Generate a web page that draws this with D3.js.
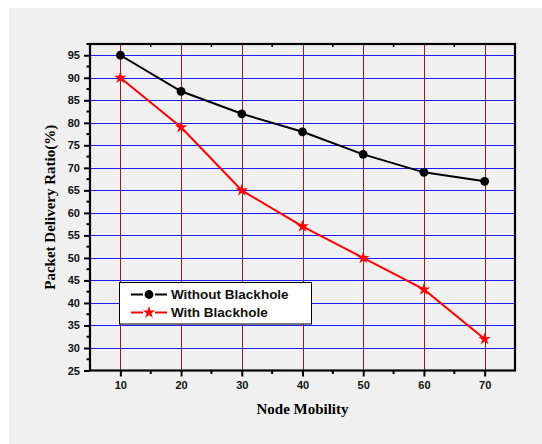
<!DOCTYPE html>
<html>
<head>
<meta charset="utf-8">
<script src="https://cdn.jsdelivr.net/npm/d3@7"></script>
<style>
  body { margin: 0; background: #fff; }
  svg { display: block; }
</style>
</head>
<body>
<svg id="chart" width="542" height="444"></svg>
<script>
'use strict'

const mobility = [10, 20, 30, 40, 50, 60, 70]
const withoutBlackhole = [95, 87, 82, 78, 73, 69, 67]
const withBlackhole = [90, 79, 65, 57, 50, 43, 32]
const yTicks = [25, 30, 35, 40, 45, 50, 55, 60, 65, 70, 75, 80, 85, 90, 95]
const xTicks = [10, 20, 30, 40, 50, 60, 70]
const seriesNames = ['Without Blackhole', 'With Blackhole']

const svg = d3.select('#chart')

// grey panel behind everything
svg.append('rect')
  .attr('x', 9).attr('y', 8)
  .attr('width', 542).attr('height', 444)
  .attr('fill', '#f0f0f0')

const plotL = 90
const plotR = 515
const plotT = 44
const plotB = 370.5

const x = d3.scaleLinear().domain([5, 75]).range([plotL, plotR])
const y = d3.scaleLinear().domain([25, 97.5]).range([plotB, plotT])

const sans = 'Arial, "Liberation Sans", sans-serif'
const serif = '"Times New Roman", "Liberation Serif", serif'

// grid
svg.append('g').selectAll('line')
  .data(yTicks.filter((t) => t > 25))
  .join('line')
  .attr('x1', plotL).attr('x2', plotR)
  .attr('y1', (d) => Math.round(y(d)) + 0.5)
  .attr('y2', (d) => Math.round(y(d)) + 0.5)
  .attr('stroke', '#1a1aff')
  .attr('stroke-width', 1.2)

svg.append('g').selectAll('line')
  .data(xTicks)
  .join('line')
  .attr('y1', plotT).attr('y2', plotB)
  .attr('x1', (d) => Math.round(x(d)) + 0.5)
  .attr('x2', (d) => Math.round(x(d)) + 0.5)
  .attr('stroke', '#8f2020')
  .attr('stroke-width', 1)

// axes
const minorX = d3.range(15, 75, 10)
const minorY = d3.range(27.5, 97.6, 5)

const xAxis = svg.append('g').attr('transform', `translate(0,${plotB})`)
  .call(d3.axisBottom(x).tickValues(xTicks).tickSize(6).tickPadding(5))
xAxis.append('g').selectAll('line')
  .data(minorX).join('line')
  .attr('x1', (d) => x(d)).attr('x2', (d) => x(d))
  .attr('y1', 0).attr('y2', 3.5)
  .attr('stroke', '#000').attr('stroke-width', 2)

const yAxis = svg.append('g').attr('transform', `translate(${plotL},0)`)
  .call(d3.axisLeft(y).tickValues(yTicks).tickSize(6).tickPadding(4))
yAxis.append('g').selectAll('line')
  .data(minorY).join('line')
  .attr('y1', (d) => y(d)).attr('y2', (d) => y(d))
  .attr('x1', 0).attr('x2', -3.5)
  .attr('stroke', '#000').attr('stroke-width', 2)

for (const ax of [xAxis, yAxis]) {
  ax.select('.domain').remove()
  ax.selectAll('.tick line').attr('stroke', '#000').attr('stroke-width', 2)
  ax.selectAll('.tick text')
    .attr('fill', '#111')
    .style('font-family', sans)
    .style('font-weight', 'bold')
    .style('font-size', '11px')
}

// top minor ticks pointing in
svg.append('g').selectAll('line')
  .data(minorX).join('line')
  .attr('x1', (d) => x(d)).attr('x2', (d) => x(d))
  .attr('y1', plotT).attr('y2', plotT + 3)
  .attr('stroke', '#000').attr('stroke-width', 1.5)

// frame
svg.append('rect')
  .attr('x', plotL).attr('y', plotT)
  .attr('width', plotR - plotL).attr('height', plotB - plotT)
  .attr('fill', 'none')
  .attr('stroke', '#000')
  .attr('stroke-width', 2.2)

// series
const line = d3.line().x((d) => x(d[0])).y((d) => y(d[1]))
const blackData = mobility.map((m, i) => [m, withoutBlackhole[i]])
const redData = mobility.map((m, i) => [m, withBlackhole[i]])

svg.append('path').datum(blackData)
  .attr('d', line).attr('fill', 'none')
  .attr('stroke', '#000').attr('stroke-width', 2)
svg.append('g').selectAll('circle')
  .data(blackData).join('circle')
  .attr('cx', (d) => x(d[0])).attr('cy', (d) => y(d[1]))
  .attr('r', 4.4).attr('fill', '#000')

const star = d3.symbol().type(d3.symbolStar).size(48)
svg.append('path').datum(redData)
  .attr('d', line).attr('fill', 'none')
  .attr('stroke', '#ff0000').attr('stroke-width', 2)
svg.append('g').selectAll('path')
  .data(redData).join('path')
  .attr('transform', (d) => `translate(${x(d[0])},${y(d[1])})`)
  .attr('d', star).attr('fill', '#ff0000')

// legend
const legend = svg.append('g')
legend.append('rect')
  .attr('x', 119.5).attr('y', 282.5)
  .attr('width', 192).attr('height', 41.5)
  .attr('fill', '#fff').attr('stroke', '#000').attr('stroke-width', 1)

const legendItems = [
  { name: seriesNames[0], color: '#000', marker: 'circle', cy: 294.5 },
  { name: seriesNames[1], color: '#ff0000', marker: 'star', cy: 312.5 }
]
legendItems.forEach((it) => {
  // short line pieces either side of the marker
  legend.append('line')
    .attr('x1', 131).attr('x2', 143)
    .attr('y1', it.cy).attr('y2', it.cy)
    .attr('stroke', it.color).attr('stroke-width', 2)
  legend.append('line')
    .attr('x1', 155).attr('x2', 167)
    .attr('y1', it.cy).attr('y2', it.cy)
    .attr('stroke', it.color).attr('stroke-width', 2)
  if (it.marker === 'circle') {
    legend.append('circle').attr('cx', 149).attr('cy', it.cy).attr('r', 4.4).attr('fill', it.color)
  } else {
    legend.append('path').attr('transform', `translate(149,${it.cy})`)
      .attr('d', star).attr('fill', it.color)
  }
  legend.append('text')
    .attr('x', 171).attr('y', it.cy + 4.8)
    .attr('fill', '#111')
    .style('font-family', sans).style('font-weight', 'bold').style('font-size', '13.5px')
    .text(it.name)
})

// axis titles
svg.append('text')
  .attr('x', (plotL + plotR) / 2).attr('y', 414)
  .attr('text-anchor', 'middle')
  .style('font-family', serif).style('font-weight', 'bold').style('font-size', '15px')
  .text('Node Mobility')

svg.append('text')
  .attr('transform', `translate(55,${(plotT + plotB) / 2}) rotate(-90)`)
  .attr('text-anchor', 'middle')
  .style('font-family', serif).style('font-weight', 'bold').style('font-size', '15px')
  .text('Packet Delivery Ratio(%)')
</script>
</body>
</html>
